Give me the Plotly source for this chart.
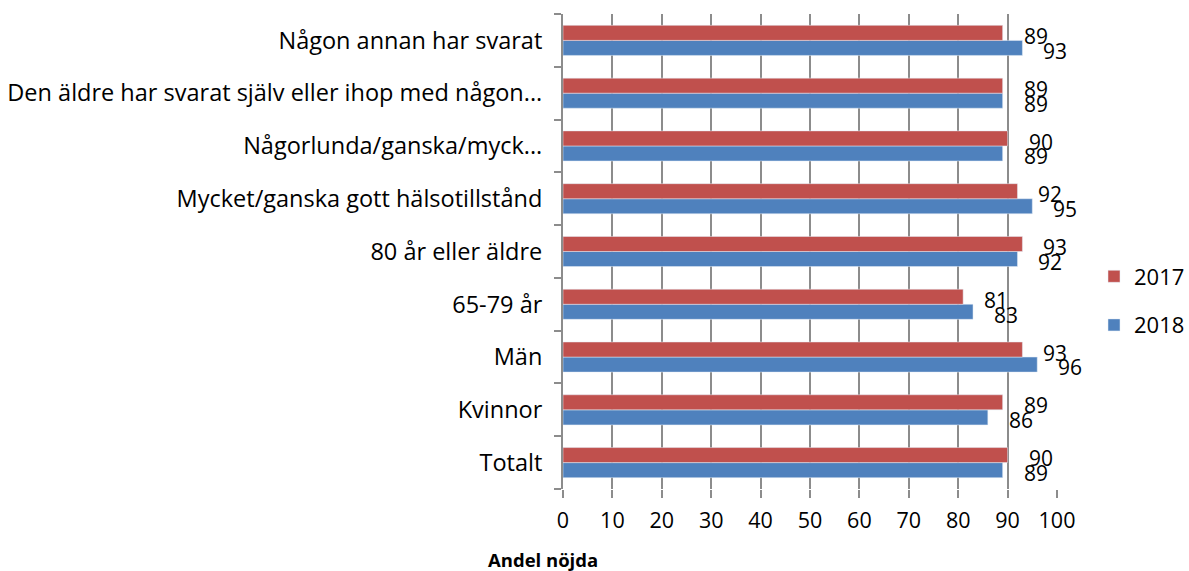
import plotly.graph_objects as go

categories = ["Totalt", "Kvinnor", "Män", "65-79 år", "80 år eller äldre",
              "Mycket/ganska gott hälsotillstånd", "Någorlunda/ganska/myck...",
              "Den äldre har svarat själv eller ihop med någon...", "Någon annan har svarat"]
values_2017 = [90, 89, 93, 81, 93, 92, 90, 89, 89]
values_2018 = [89, 86, 96, 83, 92, 95, 89, 89, 93]
colors = {"2017": "#C0504D", "2018": "#4F81BD"}
x_ticks = [0, 10, 20, 30, 40, 50, 60, 70, 80, 90, 100]
axis_title = "Andel nöjda"

FONT = "Open Sans"
W, H = 1189, 571
ML, MR, MT, MB = 563, 132, 14, 82
PW, PH = W - ML - MR, H - MT - MB

fig = go.Figure()
fig.add_trace(go.Bar(y=categories, x=values_2018, orientation="h", name="2018",
                     marker_color=colors["2018"], legendrank=2, legendgroup="b"))
fig.add_trace(go.Bar(y=categories, x=values_2017, orientation="h", name="2017",
                     marker_color=colors["2017"], legendrank=1, legendgroup="a"))

annotations = []
n = len(categories)
for i, cat in enumerate(categories):
    for vals, off in ((values_2017, 0.14), (values_2018, -0.14)):
        annotations.append(dict(x=vals[i], y=i + off, xref="x", yref="y",
                                text=str(vals[i]), showarrow=False,
                                xanchor="left", yanchor="middle", xshift=19, yshift=-3,
                                font=dict(family=FONT, size=21, color="black")))
annotations.append(dict(x=(543 - ML) / PW, y=-(559 - (MT + PH)) / PH, xref="paper", yref="paper",
                        text="<b>" + axis_title + "</b>", showarrow=False,
                        xanchor="center", yanchor="middle",
                        font=dict(family=FONT, size=18.5, color="black")))

fig.update_layout(
    width=W, height=H,
    margin=dict(l=ML, r=MR, t=MT, b=MB, autoexpand=False),
    barmode="group", bargap=0.43, bargroupgap=0,
    plot_bgcolor="white", paper_bgcolor="white",
    font=dict(family=FONT, size=18, color="black"),
    showlegend=True,
    legend=dict(x=(1094 - ML) / PW, y=(MT + PH - 301) / PH, xanchor="left", yanchor="middle",
                font=dict(family=FONT, size=22), itemwidth=30,
                traceorder="grouped", tracegroupgap=17, bgcolor="rgba(0,0,0,0)"),
    annotations=annotations,
)
fig.update_xaxes(range=[0, 100], tickvals=x_ticks, showgrid=True, gridcolor="#8C8C8C",
                 gridwidth=2, showline=False, ticks="outside", ticklen=8, tickcolor="#8C8C8C",
                 tickwidth=2, ticklabelstandoff=4, zeroline=False, automargin=False,
                 tickfont=dict(family=FONT, size=21.5))
fig.update_yaxes(type="category", categoryorder="array", categoryarray=categories,
                 range=[-0.5, n - 0.5], showline=True, linecolor="#8C8C8C", linewidth=2,
                 ticks="outside", tickson="boundaries", ticklen=7, tickcolor="#8C8C8C",
                 tickwidth=2, ticklabelstandoff=14, showgrid=False, automargin=False,
                 tickfont=dict(family=FONT, size=23.5))

fig.write_html("out.html", config={"displayModeBar": False})

# remove default page margin so the figure sits at the window's top-left corner
with open("out.html", "r", encoding="utf-8") as f:
    html = f.read()
html = html.replace("<head>", "<head><style>html,body{margin:0;padding:0;overflow:hidden;}</style>", 1)
with open("out.html", "w", encoding="utf-8") as f:
    f.write(html)
